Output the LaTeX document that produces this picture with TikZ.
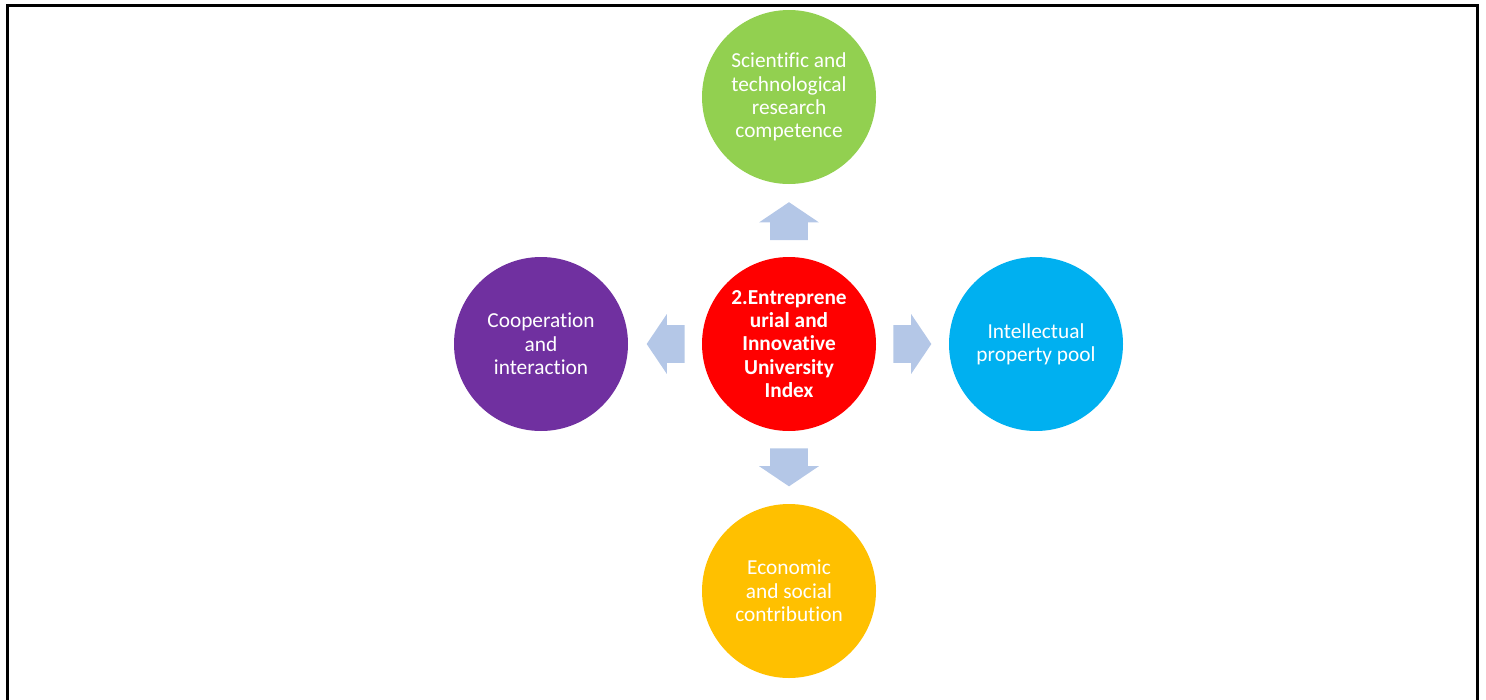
\documentclass[tikz,border=0pt]{standalone}
\usepackage{fontspec}
\setmainfont[Ligatures=CommonOff]{Carlito}
\usepackage{xcolor}
\usetikzlibrary{positioning, calc, shapes.arrows}

\definecolor{sciGreen}{HTML}{92D050}
\definecolor{coreRed}{HTML}{FF0000}
\definecolor{ipBlue}{HTML}{00B0F0}
\definecolor{coopPurple}{HTML}{7030A0}
\definecolor{econGold}{HTML}{FFC000}
\definecolor{arrowBlue}{HTML}{B4C7E7}

\tikzset{
  ball/.style={circle, minimum size=130.5pt, inner sep=0pt, align=center,
    text=white, font=\fontsize{16}{17.5}\selectfont},
  blockarrow/.style={single arrow, fill=arrowBlue, draw=none,
    minimum height=28.5pt, minimum width=44.25pt,
    inner xsep=0pt, inner ysep=13.9pt,
    single arrow head extend=8.25pt, single arrow tip angle=112}
}

\begin{document}
\begin{tikzpicture}[x=0.75pt, y=-0.75pt]
  \useasboundingbox (0,0) rectangle (1486,700);
  \draw[line width=2.25pt] (7,700) -- (7,5) -- (1477,5) -- (1477,700);

  % circles
  \node[ball, fill=coreRed, font=\fontsize{16}{17.5}\selectfont\bfseries] (core) at (789,344)
    {2.Entreprene\\urial and\\Innovative\\University\\Index};
  \node[ball, fill=sciGreen] (sci) at (789,97)
    {Scientific and\\technological\\research\\competence};
  \node[ball, fill=econGold] (econ) at (789,591)
    {Economic\\and social\\contribution};
  \node[ball, fill=coopPurple] (coop) at (541,344)
    {Cooperation\\and\\interaction};
  \node[ball, fill=ipBlue] (ip) at (1036,344)
    {Intellectual\\property pool};

  % arrows out of the core
  \node[blockarrow, rotate=90,  above=12.2pt of core, anchor=tail] (toSci)  {};
  \node[blockarrow, rotate=-90, below=12.6pt of core, anchor=tail] (toEcon) {};
  \node[blockarrow, rotate=180, left=12.6pt of core,  anchor=tail] (toCoop) {};
  \node[blockarrow,             right=12.6pt of core, anchor=tail] (toIp)   {};
\end{tikzpicture}
\end{document}
